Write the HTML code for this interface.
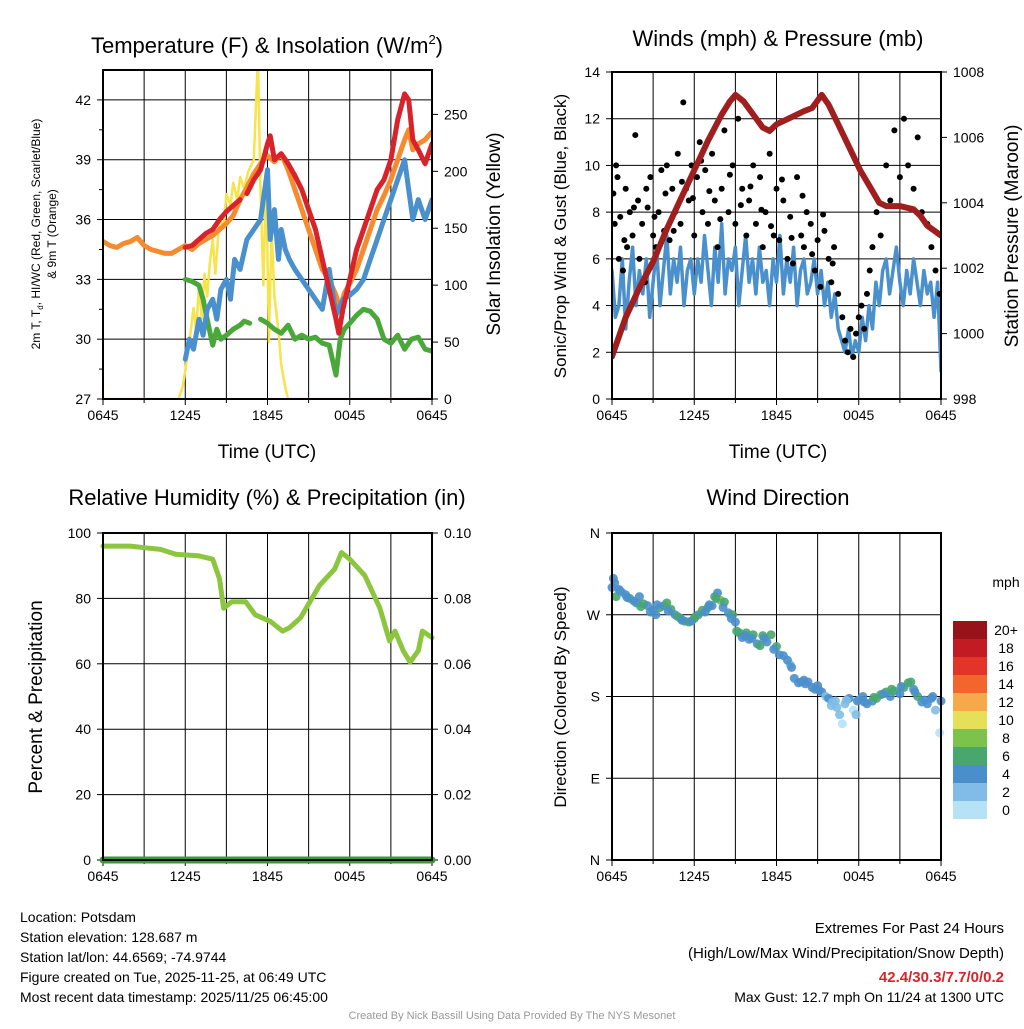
<!DOCTYPE html>
<html><head><meta charset="utf-8"><style>
body{margin:0;background:#fff}
svg{font-family:"Liberation Sans",sans-serif}
</style></head><body>
<svg id="s" width="1024" height="1024" viewBox="0 0 1024 1024" xmlns="http://www.w3.org/2000/svg"></svg>
<script>
// ---------- DATA ----------
const timeTicks=["0645","1245","1845","0045","0645"];
const tempTicks=[27,30,33,36,39,42];
const solarTicks=[0,50,100,150,200,250];
const windTicks=[0,2,4,6,8,10,12,14];
const presTicks=[998,1000,1002,1004,1006,1008];
const rhTicks=[0,20,40,60,80,100];
const precipTicks=["0.00","0.02","0.04","0.06","0.08","0.10"];
const dirLabels=["N","E","S","W","N"];
const speedBins=["0","2","4","6","8","10","12","14","16","18","20+"];
const binColors=["#b6e2f8","#80bce6","#4a8fcb","#48a66e","#7cc24d","#e6e059","#f7a84a","#f2652c","#e23428","#c31b24","#961419"];

const redT_h=[6,6.5,7,7.5,8,8.5,9,9.5,10,null,10.5,11,11.5,12,12.2,12.5,13,13.5,14,14.5,15,15.5,16,16.5,17,17.2,17.5,18,18.5,19,19.5,20,20.5,21,21.5,22,22.3,22.6,23,23.5,24];
const redT_v=[34.6,34.7,35,35.3,35.5,36,36.4,36.7,37,null,37.3,38,38.5,39.8,40.2,39,39.3,38.8,38.2,37.5,36.5,35.5,34,32.5,31,30.3,31.5,33,34.5,35.5,36.5,37.5,38,39,41,42.3,42,40,39.5,38.8,39.8];
const orangeT_h=[0,0.5,1,1.5,2,2.5,3,3.5,4,4.5,5,5.5,6,6.5,7,7.5,8,8.5,9,9.5,10,10.5,11,11.5,12,12.5,13,13.5,14,14.5,15,15.5,16,16.5,17,17.3,17.6,18,18.5,19,19.5,20,20.5,21,21.5,22,22.3,22.6,23,23.5,24];
const orangeT_v=[34.9,34.7,34.6,34.8,34.9,35.1,34.7,34.5,34.4,34.3,34.3,34.5,34.7,34.5,34.8,35,35.2,35.5,35.8,36.2,37,37.6,38.3,38.8,39.2,38.9,39.3,38.5,37.5,36.5,35.5,34.5,33.5,33,32.2,31.5,32.3,32.8,33.5,34.5,35.5,36.5,37.2,38,39,40,40.5,39.5,39.8,40,40.4];
const dew_h=[6,6.3,6.6,7,7.3,7.6,8,8.3,8.6,9,9.3,9.6,10,10.5,11,11.5,12,12.2,12.5,12.8,13,13.3,13.6,14,14.5,15,15.5,16,16.5,17,17.5,18,18.5,19,19.5,20,20.5,21,21.5,22,22.3,22.6,23,23.5,24];
const dew_v=[29,30,29.5,31,30.2,31.5,32,31,32.5,33,32,34,33.5,35,35.5,36,38.5,35,36.5,34,35.5,34.5,34,33.5,33,32.5,32,31.5,33.5,31.2,32,32.2,32.5,33,34,35,36,37,38,39,37.5,36,37,36,37];
const wc_h=[6,6.5,7,7.3,7.6,8,8.3,8.6,9,9.5,10,10.3,10.7,null,11.5,12,12.5,13,13.5,14,14.5,15,15.5,16,16.5,17,17.3,17.6,18,18.5,19,19.5,20,20.5,21,21.5,22,22.5,23,23.5,24];
const wc_v=[33,32.9,32.7,32,31,29.7,30.5,30,30.2,30.5,30.7,30.9,30.8,null,31,30.8,30.5,30.3,30.7,30,30.2,30,30.1,29.8,29.7,28.2,30,30.5,30.8,31.2,31.5,31.4,31,30,29.8,30.2,29.5,30,30.1,29.5,29.4];
const solar_h=[0,5.5,5.8,6,6.3,6.6,6.8,7,7.2,7.4,7.6,7.8,8,8.2,8.5,8.8,9,9.3,9.5,9.8,10,10.3,10.6,11,11.3,11.5,11.7,11.9,12.1,12.3,12.5,12.8,13,13.3,13.5,24];
const solar_v=[0,0,10,25,50,80,60,100,70,110,90,120,140,110,160,150,180,170,190,175,195,185,200,210,300,180,100,200,50,150,90,60,30,10,0,0];

const wind_v=[5.5,3.5,4,6,3,5,6.5,4,5.5,4.5,6,3.5,5,6.5,4,5.5,7,4.5,6,5,6.5,4,5.5,6,4.5,6,5,7,5.5,4,6.5,5,7.5,4.5,6,5.5,6.5,4,5.5,7,5,6,4.5,6.5,5,5.5,4,6,5,7,4.5,6,5,6.5,4,5.5,6,4.5,5,6,4.5,5.5,4,5,3.5,4.5,3,2.5,2,3,1.8,2.5,2,3.5,2.5,4,3,5,4,5.5,6,4.5,5.5,6.5,5,4,5.5,4.5,6,5,4,5.5,4.5,5,3.5,5,1.2];
const gust_h=[0.1,0.2,0.3,0.5,0.6,0.8,1,1.1,1.3,1.5,1.7,1.9,2,2.2,2.4,2.6,2.8,3,3.2,3.4,3.6,3.8,4,4.2,4.4,4.6,4.8,5,5.2,5.4,5.6,5.8,6,6.2,6.4,6.6,6.8,7,7.3,7.5,7.7,8,8.2,8.5,8.8,9,9.2,9.5,9.8,10,10.3,10.5,10.8,11,11.2,11.5,11.8,12,12.2,12.5,12.8,13,13.2,13.5,13.8,14,14.2,14.5,14.8,15,15.2,15.5,15.8,16,16.2,16.5,16.8,17,17.2,17.4,17.6,17.8,18,18.2,18.4,18.6,18.8,19,19.3,19.6,20,20.3,20.6,21,21.3,21.6,22,22.3,22.6,23,23.3,23.6,23.9,0.4,0.9,1.6,2.5,3.1,3.9,4.5,5.1,5.9,6.5,7.1,7.9,8.6,9.4,10.1,10.9,11.6,12.4,13.1,13.9,14.6,15.4,16.1];
const gust_v=[8.8,7.5,10,6,7.8,5.5,9,6.5,8,7,11.3,8.5,6,7.5,5,8.2,9.5,7,6.5,8,9.8,7.2,10,6.8,9,8,10.5,7.5,12.7,9,8.5,10,7,9.5,11,8,9.8,7.5,10.5,8.5,6.5,9,11.5,8,10,7.5,12,9,7,8.5,10,7.5,9.5,6.5,8,10.5,7,9,6.8,8.5,6,7.8,5.8,9.5,7,6.5,8,7.5,5.5,6.8,4.8,7.2,6,5,6.5,4.5,3.5,2.5,2,3,1.8,2.8,3.5,4,3,4.5,5.5,6.5,8,7,10,8.5,11.5,9.5,12,10,9,11.2,8,7.5,6.5,5.5,4.5,9.5,6.8,8.2,9,7.8,8.8,7.2,9.3,8.6,10.2,8.9,7.7,9.6,8.3,9.1,8.1,7.4,9.4,6.9,8.7,6.2,7.9,5.8];
const pres_h=[0,1,2,3,4,5,6,7,8,8.6,9,9.6,10.3,11,11.5,12,13,14,14.6,15.3,15.8,16.5,17.3,18.1,18.8,19.5,20,21,22,22.5,23,24];
const pres_v=[999.3,1000.5,1001.4,1002.2,1003.2,1004.1,1005,1005.9,1006.7,1007.1,1007.3,1007.1,1006.7,1006.3,1006.2,1006.4,1006.6,1006.8,1006.9,1007.3,1007.0,1006.4,1005.7,1005.0,1004.5,1004.0,1003.9,1003.9,1003.8,1003.6,1003.3,1003.0];

const rh_h=[0,2,3,4.2,5.3,7,8,8.5,8.8,9.4,10.4,11.1,12.2,13.1,13.6,14.4,15.8,16.9,17.4,18,19.1,20.2,20.9,21.3,21.9,22.4,23,23.3,24];
const rh_v=[96,96,95.5,95,93.5,93,92,86,77,79,79,75,73,70,71,74,84,89,94,92,87,77,67,70,64,60.5,64,70,68];
const precip_h=[0,24];
const precip_v=[0,0];

const dir_h=[0,0.1,0.3,0.5,0.7,1,1.3,1.6,2,2.3,2.6,3,3.2,3.5,3.8,4,4.3,4.6,5,5.3,5.6,6,6.3,6.6,7,7.3,7.5,7.7,7.9,8.2,8.5,8.8,9,9.3,9.5,9.8,10,10.3,10.6,11,11.3,11.6,12,12.5,13,13.3,13.6,14,14.3,14.6,15,15.3,15.6,16,16.3,16.6,16.8,17,17.3,17.6,17.8,18,18.3,18.6,19,19.3,19.6,20,20.3,20.6,21,21.3,21.6,22,22.3,22.6,23,23.3,23.6,24,23.9,0.2,0.6,1.1,1.8,2.1,2.8,3.3,4.1,4.8,5.1,5.8,6.1,6.8,7.1,7.6,8.1,8.7,9.1,9.7,10.2,10.8,11.1,11.8,12.2,12.8,13.1,13.8,14.1,14.8,15.1,15.8,16.1,16.4,17.1,17.9,18.4,19.1,19.8,20.4,21.1,21.8,22.1,22.8,23.4];
const dir_v=[300,310,290,298,295,292,288,285,290,282,280,275,270,278,280,283,276,270,266,263,262,266,270,275,278,280,290,294,286,284,272,270,262,250,245,250,243,248,238,247,240,248,235,225,215,200,195,198,196,190,192,185,180,170,175,160,150,172,178,165,160,176,180,172,175,178,182,185,180,186,183,190,195,188,180,174,172,178,165,175,140,305,296,289,283,279,273,281,274,268,264,263,268,273,281,288,278,266,252,247,244,236,244,232,226,220,212,196,194,188,187,178,174,168,176,175,174,179,183,188,191,196,185,176,180];
const dir_s=[5,4,6,5,3,4,6,5,4,6,5,4,4,6,5,6,6,5,6,5,6,6,5,6,6,5,6,5,8,6,5,6,5,6,5,6,4,6,4,6,5,6,6,4,3,4,4,5,4,4,5,4,3,2,3,2,1,3,4,1,2,3,4,5,4,6,6,6,5,6,5,6,6,5,6,4,4,4,2,4,1,5,4,5,4,6,5,4,5,6,4,5,6,4,5,6,5,4,6,5,4,6,5,5,4,4,5,4,5,4,5,4,3,2,3,5,4,6,5,6,5,6,4,5,4];

// ---------- DRAW ----------
const NS="http://www.w3.org/2000/svg";
const svg=document.getElementById('s');
function el(tag,attrs,parent,text){const e=document.createElementNS(NS,tag);for(const k in attrs)e.setAttribute(k,attrs[k]);if(text!==undefined)e.textContent=text;(parent||svg).appendChild(e);return e;}
function lin(d0,d1,r0,r1){return v=>r0+(v-d0)*(r1-r0)/(d1-d0);}
const defs=el('defs',{});
let clipN=0;
function clipGroup(g,x0,y0,x1,y1){const id='c'+(clipN++);const cp=el('clipPath',{id:id},defs);el('rect',{x:x0,y:y0-1,width:x1-x0,height:y1-y0+2},cp);return el('g',{'clip-path':`url(#${id})`},g);}

function panel(name,x0,y0,x1,y1){
  const g=el('g',{});
  
  
  for(let i=0;i<=8;i++){const x=x0+(x1-x0)*i/8;el('line',{x1:x,x2:x,y1:y0,y2:y1,stroke:'#000','stroke-width':1},g);}
  return g;
}
function frame(g,x0,y0,x1,y1){el('rect',{x:x0,y:y0,width:x1-x0,height:y1-y0,fill:'none',stroke:'#000','stroke-width':2},g);}
function xAxis(g,x0,x1,y1){
  for(let i=0;i<timeTicks.length;i++){const x=x0+(x1-x0)*i/4;
    el('line',{x1:x,x2:x,y1:y1,y2:y1+6,stroke:'#000'},g);
    const t=el('text',{x:x,y:y1+21,'font-size':14,'text-anchor':'middle'},g,timeTicks[i]);
    }
  for(let i=1;i<8;i+=2){const x=x0+(x1-x0)*i/8;el('line',{x1:x,x2:x,y1:y1,y2:y1+4,stroke:'#000'},g);}
}
function yTicks(g,ticks,labels,sc,x,side,x0,x1,grid){
  ticks.forEach((v,i)=>{const y=sc(v);
    if(grid)el('line',{x1:x0,x2:x1,y1:y,y2:y,stroke:'#000'},g);
    el('line',{x1:x,x2:x+side*6,y1:y,y2:y,stroke:'#000'},g);
    const t=el('text',{x:x+side*12,y:y+5,'font-size':14,'text-anchor':side<0?'end':'start'},g,labels[i]);
    });
}
function path(g,hs,vs,sx,sy,color,w,name){
  let d='',pen=false;
  for(let i=0;i<hs.length;i++){if(hs[i]===null||vs[i]===null){pen=false;continue;}
    d+=(pen?'L':'M')+sx(hs[i]).toFixed(1)+','+sy(vs[i]).toFixed(1);pen=true;}
  const p=el('path',{d:d,fill:'none',stroke:color,'stroke-width':w,'stroke-linejoin':'round','stroke-linecap':'round'},g);
  
}
function title(x,y,txt,name,size){const t=el('text',{x:x,y:y,'font-size':size||22,'text-anchor':'middle'},svg,txt);return t;}
function vlabel(x,y,txt,name,size){const t=el('text',{x:x,y:y,'font-size':size||18,'text-anchor':'middle',transform:`rotate(-90 ${x} ${y})`},svg,txt);return t;}

// Panel 1
{const x0=103,x1=432,y0=70,y1=399;
 const g=panel('temperature-panel',x0,y0,x1,y1);
 const sx=lin(0,24,x0,x1), sy=lin(27,43.5,y1,y0), sr=lin(0,289,y1,y0);
 yTicks(g,tempTicks,tempTicks.map(String),sy,x0,-1,x0,x1,true);
 [28.5,31.5,34.5,37.5,40.5].forEach(v=>el('line',{x1:x0,x2:x0-4,y1:sy(v),y2:sy(v),stroke:'#000'},g));
 yTicks(g,solarTicks,solarTicks.map(String),sr,x1,1,x0,x1,false);
 xAxis(g,x0,x1,y1);
 const c=clipGroup(g,x0,y0,x1,y1);
 path(c,solar_h,solar_v,sx,sr,'#f7e34a',2.5,'solar-insolation-line');
 path(c,orangeT_h,orangeT_v,sx,sy,'#f58a2e',5,'temp-9m-line');
 path(c,wc_h,wc_v,sx,sy,'#4aa83a',5,'wind-chill-line');
 path(c,dew_h,dew_v,sx,sy,'#4a90cc',5,'dewpoint-line');
 path(c,redT_h,redT_v,sx,sy,'#d8232a',5,'temp-2m-line');
 frame(g,x0,y0,x1,y1);
 const t=title(267,53,'Temperature (F) & Insolation (W/m','temp-title');
 el('tspan',{'font-size':13,dy:-9},t,'2');el('tspan',{dy:9},t,')');
 const yl=el('text',{x:40,y:234,'font-size':12,'text-anchor':'middle',transform:'rotate(-90 40 234)'},svg);
 
 el('tspan',{},yl,'2m T, T');el('tspan',{'font-size':8,dy:3},yl,'d');el('tspan',{dy:-3},yl,', HI/WC (Red, Green, Scarlet/Blue)');
 const yl2=el('text',{x:56,y:234,'font-size':12,'text-anchor':'middle',transform:'rotate(-90 56 234)'},svg,'& 9m T (Orange)');
 
 vlabel(500,234,'Solar Insolation (Yellow)','solar-y-axis-title',19);
 title(267,458,'Time (UTC)','temp-x-axis-title',19);
}
// Panel 2
{const x0=612,x1=941,y0=72,y1=399;
 const g=panel('wind-pressure-panel',x0,y0,x1,y1);
 const sx=lin(0,24,x0,x1), sy=lin(0,14,y1,y0), sp=lin(998,1008,y1,y0);
 yTicks(g,windTicks,windTicks.map(String),sy,x0,-1,x0,x1,true);
 yTicks(g,presTicks,presTicks.map(String),sp,x1,1,x0,x1,false);
 xAxis(g,x0,x1,y1);
 const c=clipGroup(g,x0,y0,x1,y1);
 const wh=wind_v.map((v,i)=>i*24/(wind_v.length-1));
 path(c,wh,wind_v,sx,sy,'#4a90cc',3.5,'sonic-wind-line');
 gust_h.forEach((h,i)=>{const d=el('circle',{cx:sx(h),cy:sy(gust_v[i]),r:3,fill:'#000'},c);
   });
 path(c,pres_h,pres_v,sx,sp,'#a01e1e',6,'pressure-line');
 frame(g,x0,y0,x1,y1);
 title(778,46,'Winds (mph) & Pressure (mb)','wind-title');
 vlabel(566,236,'Sonic/Prop Wind & Gust (Blue, Black)','wind-y-axis-title',17);
 vlabel(1018,236,'Station Pressure (Maroon)','pressure-y-axis-title',19);
 title(778,458,'Time (UTC)','wind-x-axis-title',19);
}
// Panel 3
{const x0=103,x1=432,y0=533,y1=860;
 const g=panel('humidity-panel',x0,y0,x1,y1);
 const sx=lin(0,24,x0,x1), sy=lin(0,100,y1,y0);
 yTicks(g,rhTicks,rhTicks.map(String),sy,x0,-1,x0,x1,true);
 yTicks(g,rhTicks,precipTicks,sy,x1,1,x0,x1,false);
 xAxis(g,x0,x1,y1);
 path(g,rh_h,rh_v,sx,sy,'#8cc63f',5,'rh-line');
 path(g,precip_h,precip_v,sx,sy,'#3a9a3a',7,'precip-line');
 frame(g,x0,y0,x1,y1);
 title(267,505,'Relative Humidity (%) & Precipitation (in)','rh-title');
 vlabel(42,697,'Percent & Precipitation','rh-y-axis-title',19);
}
// Panel 4
{const x0=612,x1=941,y0=533,y1=860;
 const g=panel('wind-direction-panel',x0,y0,x1,y1);
 const sx=lin(0,24,x0,x1), sy=lin(0,360,y1,y0);
 yTicks(g,[0,90,180,270,360],dirLabels,sy,x0,-1,x0,x1,true);
 xAxis(g,x0,x1,y1);
 dir_h.forEach((h,i)=>{const b=Math.min(10,Math.floor(dir_s[i]/2));
   const d=el('circle',{cx:sx(h),cy:sy(dir_v[i]),r:4.5,fill:binColors[b],'fill-opacity':0.9},g);
   });
 frame(g,x0,y0,x1,y1);
 title(778,505,'Wind Direction','direction-title');
 vlabel(566,697,'Direction (Colored By Speed)','direction-y-axis-title',17);
 const cb=el('g',{});
 speedBins.forEach((lab,i)=>{const y=801-i*18;
   el('rect',{x:953,y:y,width:34,height:18,fill:binColors[i]},cb);
   el('text',{x:1006,y:y+14,'font-size':14,'text-anchor':'middle'},cb,lab);});
 el('text',{x:1006,y:587,'font-size':14,'text-anchor':'middle'},cb,'mph');
}
// Footer text
const info=["Location: Potsdam","Station elevation: 128.687 m","Station lat/lon: 44.6569; -74.9744","Figure created on Tue, 2025-11-25, at 06:49 UTC","Most recent data timestamp: 2025/11/25 06:45:00"];
info.forEach((s,i)=>{const t=el('text',{x:20,y:922+i*20,'font-size':14},svg,s);});
const rt=[["Extremes For Past 24 Hours",933,'#000',15,''],["(High/Low/Max Wind/Precipitation/Snow Depth)",958,'#000',15,''],["42.4/30.3/7.7/0/0.2",982,'#d8232a',15,'bold'],["Max Gust: 12.7 mph On 11/24 at 1300 UTC",1002,'#000',14,'']];
rt.forEach(r=>{const t=el('text',{x:1004,y:r[1],'font-size':r[3],'text-anchor':'end',fill:r[2],'font-weight':r[4]||'normal'},svg,r[0]);});
const cr=el('text',{x:512,y:1019,'font-size':11,'text-anchor':'middle',fill:'#999'},svg,'Created By Nick Bassill Using Data Provided By The NYS Mesonet');

</script>
</body></html>
